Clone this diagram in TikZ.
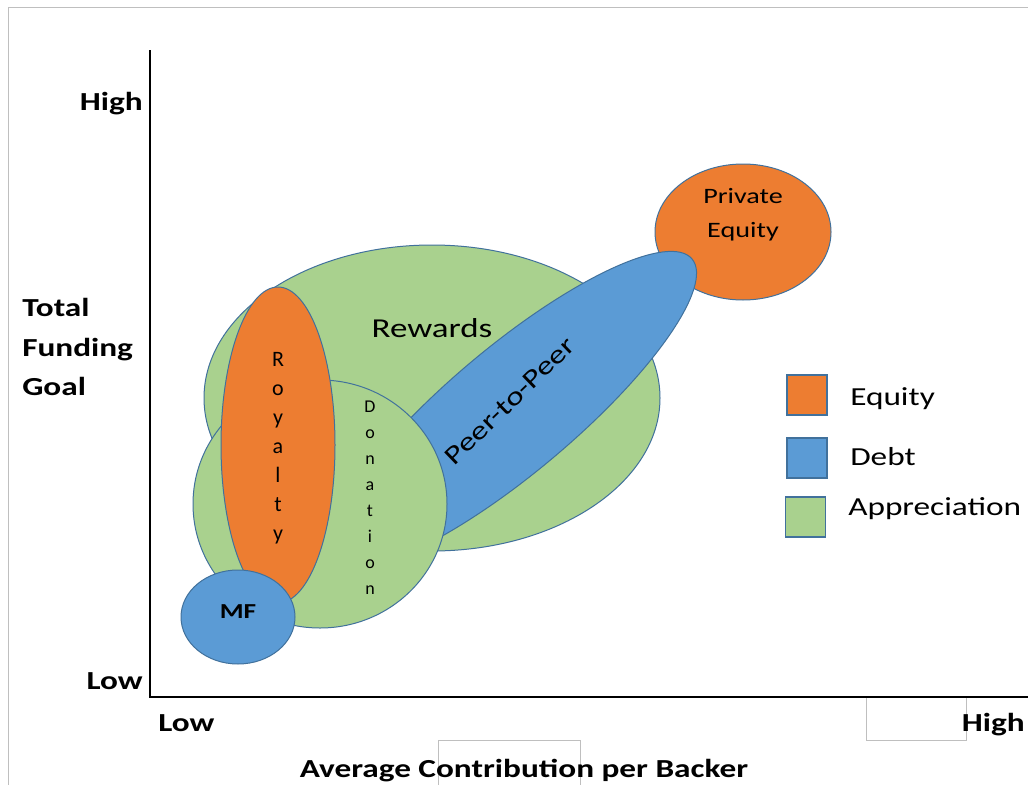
\documentclass[tikz,border=0pt]{standalone}
\usepackage{fontspec}
\setmainfont{Carlito}
\usepackage{graphicx}
\usetikzlibrary{shapes.geometric}
\definecolor{eqc}{HTML}{ED7D31}
\definecolor{dbc}{HTML}{5B9BD5}
\definecolor{apc}{HTML}{A9D18E}
\definecolor{edc}{HTML}{41719C}
\definecolor{frc}{HTML}{BFBFBF}
\newcommand{\hs}[1]{\scalebox{1.28}[1]{#1}}
\begin{document}
\begin{tikzpicture}[x=0.75pt,y=-0.75pt,
  blob/.style={ellipse, draw=edc, line width=0.75pt, inner sep=0pt},
  keybox/.style={rectangle, draw=edc, line width=1pt, minimum size=30pt, inner sep=0pt},
  axlab/.style={font=\fontsize{19.5}{29}\selectfont\bfseries, inner sep=0pt},
  keylab/.style={font=\fontsize{19.5}{23}\selectfont, inner sep=0pt, anchor=base west},
  axisline/.style={line width=1.5pt, black},
  ghost/.style={draw=frc, line width=0.75pt}
]
\useasboundingbox (0,0) rectangle (1028,785);
\fill[white] (0,0) rectangle (1028,785);
\draw[ghost] (8,785) -- (8,7) -- (1028,7);
\draw[ghost] (866,697) -- (866,740) -- (966,740) -- (966,697);
\draw[ghost] (438,785) -- (438,740) -- (580,740) -- (580,785);

% bubbles
\node[blob, fill=apc, minimum width=342pt, minimum height=229.5pt] (rew) at (432,398) {};
\node[blob, fill=eqc, minimum width=132pt, minimum height=102pt] (pe) at (743,232) {};
\node[blob, fill=dbc, minimum width=352.5pt, minimum height=94.5pt, rotate=40] (p2p) at (512,410) {};
\node[blob, fill=apc, minimum width=190.5pt, minimum height=186pt] (don) at (320,504) {};
\node[blob, fill=eqc, minimum width=85.5pt, minimum height=237pt] (roy) at (278,445) {};
\node[blob, fill=dbc, minimum width=85.5pt, minimum height=70.5pt] (mf) at (238,617) {};

% bubble texts
\node[font=\fontsize{20.5}{24}\selectfont, inner sep=0pt, anchor=base] (rewt) at (432,337) {\hs{Rewards}};
\node[font=\fontsize{19.5}{23}\selectfont, inner sep=0pt, rotate=44] (p2pt) at (510,401) {\hs{Peer-to-Peer}};
\node[font=\fontsize{16.5}{25.5}\selectfont, inner sep=0pt, align=center] (pet) at (743,215) {\hs{Private}\\\hs{Equity}};
\node[font=\fontsize{16.5}{21.75}\selectfont, inner sep=0pt, align=center] (royt) at (278,448) {R\\o\\y\\a\\l\\t\\y};
\node[font=\fontsize{13.5}{19.5}\selectfont, inner sep=0pt, align=center] (dont) at (370,498) {D\\o\\n\\a\\t\\i\\o\\n};
\node[font=\fontsize{16}{19}\selectfont\bfseries, inner sep=0pt] (mft) at (238,612) {\hs{MF}};

% legend
\node[keybox, fill=eqc] (keq) at (807,395) {};
\node[keybox, fill=dbc] (kdb) at (807,458) {};
\node[keybox, fill=apc] (kap) at (805.5,517) {};
\node[keylab] (leq) at (850,405) {\hs{Equity}};
\node[keylab] (ldb) at (850,465) {\hs{Debt}};
\node[keylab] (lap) at (848,515) {\hs{Appreciation}};

% axes
\coordinate (O) at (150,697);
\coordinate (Ytop) at (150,50);
\coordinate (Xend) at (1028,697);
\draw[axisline] (Ytop) -- (O) -- (Xend);

\node[axlab, anchor=base east] (yhi) at (143,110) {\hs{High}};
\node[axlab, anchor=base east] (ylo) at (143,689) {\hs{Low}};
\node[axlab, anchor=base west] (t1) at (22,316) {\hs{Total}};
\node[axlab, anchor=base west] (t2) at (22,356) {\hs{Funding}};
\node[axlab, anchor=base west] (t3) at (22,395) {\hs{Goal}};
\node[axlab, anchor=base west] (xlo) at (158,731) {\hs{Low}};
\node[axlab, anchor=base east] (xhi) at (1025,731) {\hs{High}};
\node[axlab, anchor=base] (xt) at (524,777) {\hs{Average Contribution per Backer}};
\end{tikzpicture}
\end{document}
